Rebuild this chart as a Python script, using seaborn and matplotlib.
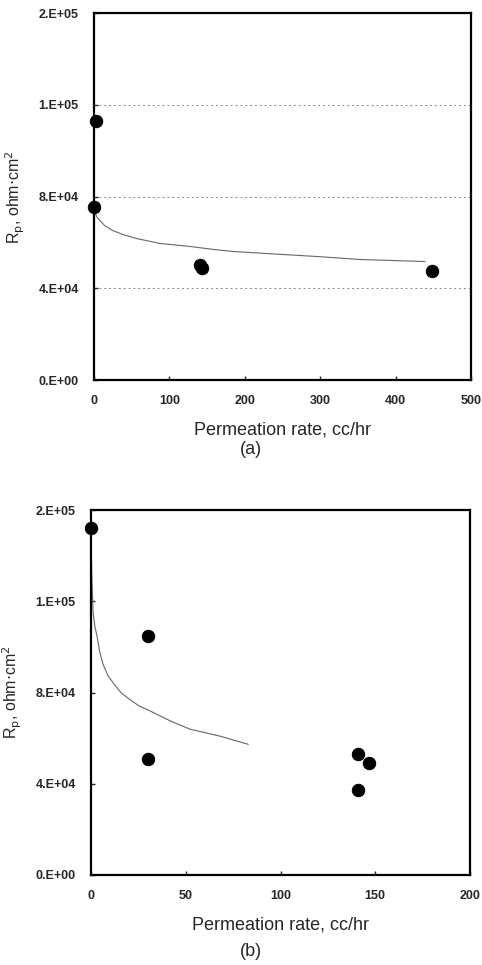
import numpy as np
import pandas as pd
import matplotlib
matplotlib.use('Agg')
import matplotlib.pyplot as plt
from matplotlib.ticker import FuncFormatter
import seaborn as sns

# measured points, panel (a)
rate_a = [0, 3, 141, 143, 448]
rp_a = [75600, 113000, 50000, 48700, 47800]
# trend curve
fit_x_a = [0.1, 0.4, 1.3, 4, 8, 14, 25, 40, 57, 87.5, 127, 158, 184, 229, 296, 353, 393, 439]
fit_y_a = [92000, 80000, 73000, 71000, 69600, 67400, 65200, 63300, 61700, 59600, 58300, 57000,
           56100, 55200, 53900, 52600, 52200, 51700]

# measured points, panel (b)
rate_b = [0, 30, 30, 141, 141, 146.5]
rp_b = [152000, 104900, 50700, 52900, 37300, 49300]
# trend curve
fit_x_b = [0.15, 0.4, 1.1, 2, 3.2, 4.5, 6.3, 9, 12.7, 16, 20.6, 25, 31, 42, 52, 68, 83]
fit_y_b = [140000, 130000, 114700, 109000, 104400, 98000, 92400, 87300, 83100, 79800, 76900,
           74300, 72000, 67500, 64000, 60900, 57300]

yticks = [0, 40000, 80000, 120000, 160000]

sns.set_style('ticks')
plt.rcParams['font.family'] = ['Liberation Sans', 'DejaVu Sans']

fig = plt.figure(figsize=(4.82, 9.65), dpi=100)
ax_a = fig.add_axes([0.195, 0.606, 0.782, 0.3805])
ax_b = fig.add_axes([0.189, 0.0933, 0.786, 0.378])

panels = [
    (ax_a, rate_a, rp_a, fit_x_a, fit_y_a, 500, [0, 100, 200, 300, 400, 500], True),
    (ax_b, rate_b, rp_b, fit_x_b, fit_y_b, 200, [0, 50, 100, 150, 200], False),
]

for ax, xs, ys, fx, fy, xmax, xticks, grid in panels:
    pts = pd.DataFrame({'x': xs, 'y': ys})
    fit = pd.DataFrame({'x': fx, 'y': fy})
    sns.lineplot(data=fit, x='x', y='y', ax=ax, color='#666666', lw=0.8, sort=True)
    sns.scatterplot(data=pts, x='x', y='y', ax=ax, color='black', s=80,
                    edgecolor='black', clip_on=False, zorder=5)
    ax.set_xlim(0, xmax)
    ax.set_ylim(0, 160000)
    ax.set_xticks(xticks)
    ax.set_yticks(yticks)
    ax.yaxis.set_major_formatter(FuncFormatter(lambda v, p: f'{v:#.0E}'))
    if grid:
        for v in yticks[1:-1]:
            ax.axhline(v, color='#888888', lw=0.7, ls=(0, (2, 3)), zorder=0)
    for s in ax.spines.values():
        s.set_linewidth(1.6)
        s.set_color('black')
    ax.tick_params(direction='in', length=3, width=1, pad=11, labelsize=9)
    for lab in ax.get_xticklabels() + ax.get_yticklabels():
        lab.set_fontweight('bold')
    ax.set_xlabel('Permeation rate, cc/hr', fontsize=13, labelpad=10)
    ax.set_ylabel(r'R$_\mathrm{p}$, ohm$\cdot$cm$^2$', fontsize=11.5, labelpad=8)

fig.text(0.52, 1 - 449 / 965, '(a)', ha='center', va='center', fontsize=13)
fig.text(0.52, 1 - 952 / 965, '(b)', ha='center', va='center', fontsize=13)

fig.savefig('out.png', dpi=100)
